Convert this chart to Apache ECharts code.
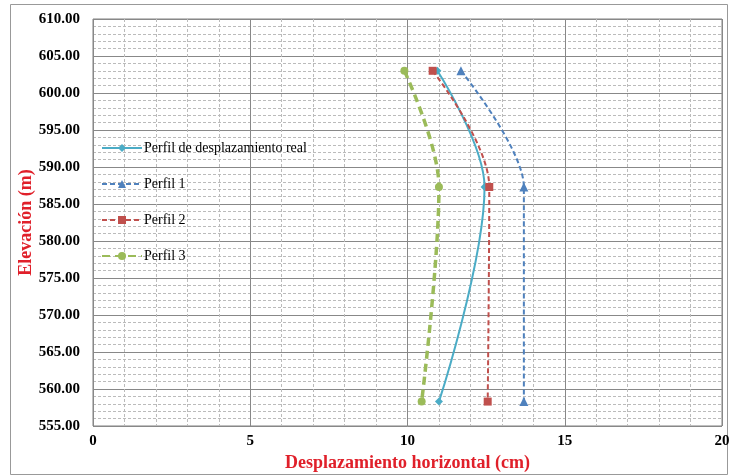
<!DOCTYPE html>
<html><head><meta charset="utf-8">
<script src="https://cdn.jsdelivr.net/npm/echarts@6/dist/echarts.min.js"></script>
<style>html,body{margin:0;padding:0;background:#fff}#c{width:730px;height:476px}</style>
</head><body><div id="c"></div>
<script>
const elevations = [603.0, 587.3, 558.3];
const realX = [10.95, 12.45, 11.0];
const perfil1X = [11.7, 13.7, 13.7];
const perfil2X = [10.8, 12.6, 12.55];
const perfil3X = [9.9, 11.0, 10.45];
const seriesNames = ['Perfil de desplazamiento real', 'Perfil 1', 'Perfil 2', 'Perfil 3'];

const pts = xs => xs.map((x, i) => [x, elevations[i]]);
const serif = '"Liberation Serif","Times New Roman",serif';
const chart = echarts.init(document.getElementById('c'));
chart.setOption({
  animation: false,
  backgroundColor: '#fff',
  graphic: [{type:'rect', shape:{x:10.5,y:4.5,width:717,height:470}, style:{fill:'none', stroke:'#999', lineWidth:1}, silent:true, z:-10}],
  grid: {left: 93, right: 8, top: 19, bottom: 50, show: true, borderColor: '#808080', borderWidth: 1,
    outerBoundsMode: 'none', containLabel: false},
  legend: {
    orient: 'vertical', left: 101, top: 141, padding: 0, itemGap: 22, itemWidth: 40, itemHeight: 10,
    textStyle: {fontFamily: serif, fontSize: 14, color: '#000', padding: [0, 0, 0, -3]},
    data: seriesNames
  },
  xAxis: {
    type: 'value', min: 0, max: 20, interval: 5,
    name: 'Desplazamiento horizontal (cm)', nameLocation: 'middle', nameGap: 28, nameMoveOverlap: false,
    nameTextStyle: {fontFamily: serif, fontSize: 18, fontWeight: 'bold', color: '#e0202a'},
    axisLine: {show: false}, axisTick: {show: false},
    axisLabel: {fontFamily: serif, fontSize: 15, fontWeight: 'bold', color: '#000', margin: 8},
    splitLine: {show: true, lineStyle: {color: '#888', width: 1}},
    minorTick: {show: false, splitNumber: 5},
    minorSplitLine: {show: true, lineStyle: {color: '#bbb', type: [3, 2], width: 1}}
  },
  yAxis: {
    type: 'value', min: 555, max: 610, interval: 5,
    name: 'Elevación (m)', nameLocation: 'middle', nameGap: 58, nameRotate: 90, nameMoveOverlap: false,
    nameTextStyle: {fontFamily: serif, fontSize: 18, fontWeight: 'bold', color: '#e0202a'},
    axisLine: {show: false}, axisTick: {show: false},
    axisLabel: {fontFamily: serif, fontSize: 15, fontWeight: 'bold', color: '#000', margin: 13,
      formatter: v => v.toFixed(2)},
    splitLine: {show: true, lineStyle: {color: '#888', width: 1}},
    minorTick: {show: false, splitNumber: 5},
    minorSplitLine: {show: true, lineStyle: {color: '#bbb', type: [3, 2], width: 1}}
  },
  series: [
    {name: seriesNames[0], type: 'line', data: pts(realX), smooth: 0.35, symbol: 'diamond', symbolSize: 8,
      itemStyle: {color: '#4bacc6'}, lineStyle: {color: '#4bacc6', width: 2}},
    {name: seriesNames[1], type: 'line', data: pts(perfil1X), smooth: 0.3, symbol: 'triangle', symbolSize: 9,
      itemStyle: {color: '#4f81bd'}, lineStyle: {color: '#4f81bd', width: 2, type: [5, 3]}},
    {name: seriesNames[2], type: 'line', data: pts(perfil2X), smooth: 0.35, symbol: 'rect', symbolSize: 8,
      itemStyle: {color: '#c0504d'}, lineStyle: {color: '#c0504d', width: 2, type: [5, 3]}},
    {name: seriesNames[3], type: 'line', data: pts(perfil3X), smooth: 0.35, symbol: 'circle', symbolSize: 8,
      itemStyle: {color: '#9bbb59'}, lineStyle: {color: '#9bbb59', width: 3.5, type: [8, 5]}}
  ]
});
</script></body></html>
